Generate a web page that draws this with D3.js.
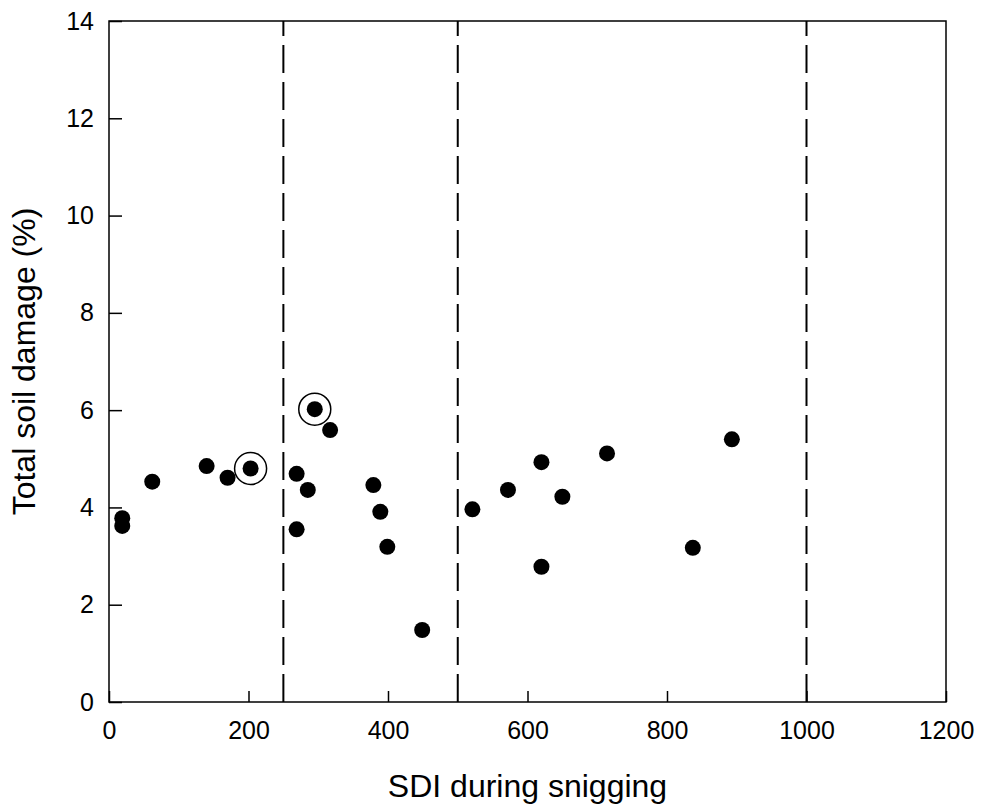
<!DOCTYPE html>
<html>
<head>
<meta charset="utf-8">
<script src="https://cdn.jsdelivr.net/npm/d3@7"></script>
<style>
  html, body { margin: 0; padding: 0; background: #fff; }
  svg { display: block; font-family: "Liberation Sans", Arial, sans-serif; }
</style>
</head>
<body>
<svg id="chart" width="983" height="810"></svg>
<script>
// Data
const sdi    = [19, 19, 62, 140, 170, 203, 269, 285, 269, 295, 317, 379, 389, 399, 449, 521, 572, 620, 650, 620, 714, 837, 893];
const damage = [3.78, 3.62, 4.53, 4.85, 4.61, 4.80, 4.69, 4.36, 3.55, 6.02, 5.59, 4.46, 3.91, 3.19, 1.48, 3.96, 4.36, 4.93, 4.22, 2.78, 5.11, 3.17, 5.40];
const circledSdi    = [203, 295];
const circledDamage = [4.80, 6.02];
const thresholds = [250, 500, 1000];
const xTicks = [0, 200, 400, 600, 800, 1000, 1200];
const yTicks = [0, 2, 4, 6, 8, 10, 12, 14];
const xTitle = "SDI during snigging";
const yTitle = "Total soil damage (%)";

(function () {
  const svg = d3.select("#chart");
  const pLeft = 109, pRight = 946, pTop = 21, pBottom = 702;

  const x = d3.scaleLinear().domain([0, 1200]).range([pLeft, pRight]);
  const y = d3.scaleLinear().domain([0, 14]).range([pBottom, pTop]);

  // Axes (ticks inward)
  const yAxis = svg.append("g")
    .attr("transform", `translate(${pLeft},0)`)
    .call(d3.axisLeft(y).tickValues(yTicks).tickSize(-13).tickPadding(15).tickFormat(d3.format("d")));
  const xAxis = svg.append("g")
    .attr("transform", `translate(0,${pBottom})`)
    .call(d3.axisBottom(x).tickValues(xTicks).tickSize(-11).tickPadding(19).tickFormat(d3.format("d")));

  [yAxis, xAxis].forEach(g => {
    g.select(".domain").remove();
    g.selectAll(".tick line").attr("stroke", "#000").attr("stroke-width", 1.5);
    g.selectAll(".tick text")
      .attr("fill", "#000")
      .style("font-size", "25px")
      .style("font-family", "'Liberation Sans', Arial, sans-serif");
  });

  // Threshold dashed lines
  svg.append("g").selectAll("line").data(thresholds).join("line")
    .attr("x1", d => x(d)).attr("x2", d => x(d))
    .attr("y1", pBottom).attr("y2", pTop)
    .attr("stroke", "#000")
    .attr("stroke-width", 2)
    .attr("stroke-dasharray", "28,9");

  // Frame
  svg.append("rect")
    .attr("x", pLeft).attr("y", pTop)
    .attr("width", pRight - pLeft).attr("height", pBottom - pTop)
    .attr("fill", "none").attr("stroke", "#000").attr("stroke-width", 1.5);

  // Points
  svg.append("g").selectAll("circle").data(sdi.map((d, i) => [d, damage[i]])).join("circle")
    .attr("cx", d => x(d[0])).attr("cy", d => y(d[1]))
    .attr("r", 8).attr("fill", "#000");

  // Circled highlight rings
  svg.append("g").selectAll("circle").data(circledSdi.map((d, i) => [d, circledDamage[i]])).join("circle")
    .attr("cx", d => x(d[0])).attr("cy", d => y(d[1]))
    .attr("r", 16).attr("fill", "none").attr("stroke", "#000").attr("stroke-width", 1.5);

  // Axis titles
  svg.append("text")
    .attr("x", (pLeft + pRight) / 2).attr("y", 797)
    .attr("text-anchor", "middle")
    .style("font-size", "32px")
    .attr("fill", "#000")
    .text(xTitle);

  svg.append("text")
    .attr("transform", `translate(35,${(pTop + pBottom) / 2}) rotate(-90)`)
    .attr("text-anchor", "middle")
    .style("font-size", "32px")
    .attr("fill", "#000")
    .text(yTitle);
})();
</script>
</body>
</html>
